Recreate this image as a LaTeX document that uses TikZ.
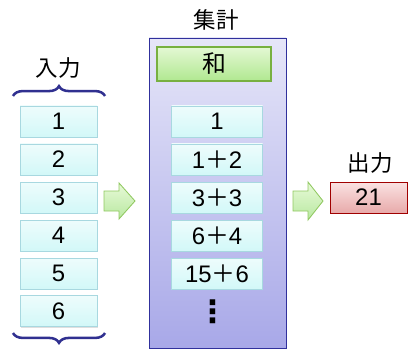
\documentclass[tikz,border=0pt]{standalone}
\usepackage{fontspec}
\setmainfont{Liberation Sans}
\newfontfamily\jpfont{Noto Sans CJK JP}
\newfontfamily\symfont{DejaVu Sans}
\usepackage{tikz}
\usetikzlibrary{shadows,decorations.pathreplacing}
\definecolor{cellline}{HTML}{A8D8E0}
\definecolor{celltop}{HTML}{EEFCFC}
\definecolor{cellbot}{HTML}{D2F8F8}
\definecolor{panelline}{HTML}{30309C}
\definecolor{paneltop}{HTML}{E6E6F8}
\definecolor{panelbot}{HTML}{A8A8E8}
\definecolor{sumline}{HTML}{78B040}
\definecolor{sumtop}{HTML}{E4F8D4}
\definecolor{sumbot}{HTML}{B0E890}
\definecolor{outline}{HTML}{A00000}
\definecolor{outtop}{HTML}{FAE2E2}
\definecolor{outbot}{HTML}{E8AAAA}
\definecolor{arrline}{HTML}{90C860}
\definecolor{arrtop}{HTML}{E8FAD8}
\definecolor{arrbot}{HTML}{B8E8A0}
\definecolor{braceblue}{HTML}{303090}

\begin{document}
\begin{tikzpicture}[x=0.025cm,y=-0.025cm,
  cell/.style={draw=cellline,top color=celltop,bottom color=cellbot,
    minimum width=77*0.025cm,minimum height=31*0.025cm,inner sep=0pt,
    drop shadow={shadow xshift=0.5pt,shadow yshift=-0.8pt,opacity=0.25},
    font=\fontsize{17}{20}\selectfont},
  sumcell/.style={cell,minimum width=91*0.025cm},
  title/.style={font=\jpfont\fontsize{16}{19}\selectfont},
  blockarrow/.style={draw=arrline,top color=arrtop,bottom color=arrbot,line width=0.6pt},
  curly/.style={draw=braceblue,line width=1.8pt,decorate,decoration={brace,amplitude=7pt}}]
\useasboundingbox (0,0) rectangle (420,360);
% input column
\node[title] (intitle) at (58,68) {入力};
\draw[curly] (13,96)--(105,96);
\foreach \v/\y in {1/121.5,2/159.5,3/197.5,4/235.5,5/273.5,6/311}
  \node[cell] (in\v) at (58.5,\y) {\v};
\draw[curly] (105,333)--(13,333);
% arrow into the panel
\draw[blockarrow] (104,191)--(119,191)--(119,183)--(135,201)--(119,219)--(119,211)--(104,211)--cycle;
% summing panel
\node[title] (sumtitle) at (216,20) {集計};
\node[draw=panelline,line width=0.7pt,top color=paneltop,bottom color=panelbot,
  minimum width=137*0.025cm,minimum height=310*0.025cm,inner sep=0pt] (panel) at (217.5,193) {};
\node[draw=sumline,line width=0.8pt,top color=sumtop,bottom color=sumbot,
  minimum width=114*0.025cm,minimum height=34*0.025cm,inner sep=0pt,
  drop shadow={shadow xshift=0.5pt,shadow yshift=-0.8pt,opacity=0.25},
  title,font=\jpfont\fontsize{17}{20}\selectfont] (sum) at (214,64) {和};
\node[sumcell] (s1) at (217,121.5) {1};
\node[sumcell] (s2) at (217,159.5) {1{\jpfont ＋}2};
\node[sumcell] (s3) at (217,197.5) {3{\jpfont ＋}3};
\node[sumcell] (s4) at (217,235.5) {6{\jpfont ＋}4};
\node[sumcell] (s5) at (217,273.5) {15{\jpfont ＋}6};
\node[font=\symfont\fontsize{22}{24}\selectfont\bfseries] (dots) at (213,312) {⋮};
% arrow out of the panel
\draw[blockarrow] (293,191)--(308,191)--(308,182)--(323,201)--(308,220)--(308,211)--(293,211)--cycle;
% output
\node[title] (outtitle) at (370,163) {出力};
\node[cell,draw=outline,top color=outtop,bottom color=outbot] (out) at (368.5,197.5) {21};
\end{tikzpicture}
\end{document}
